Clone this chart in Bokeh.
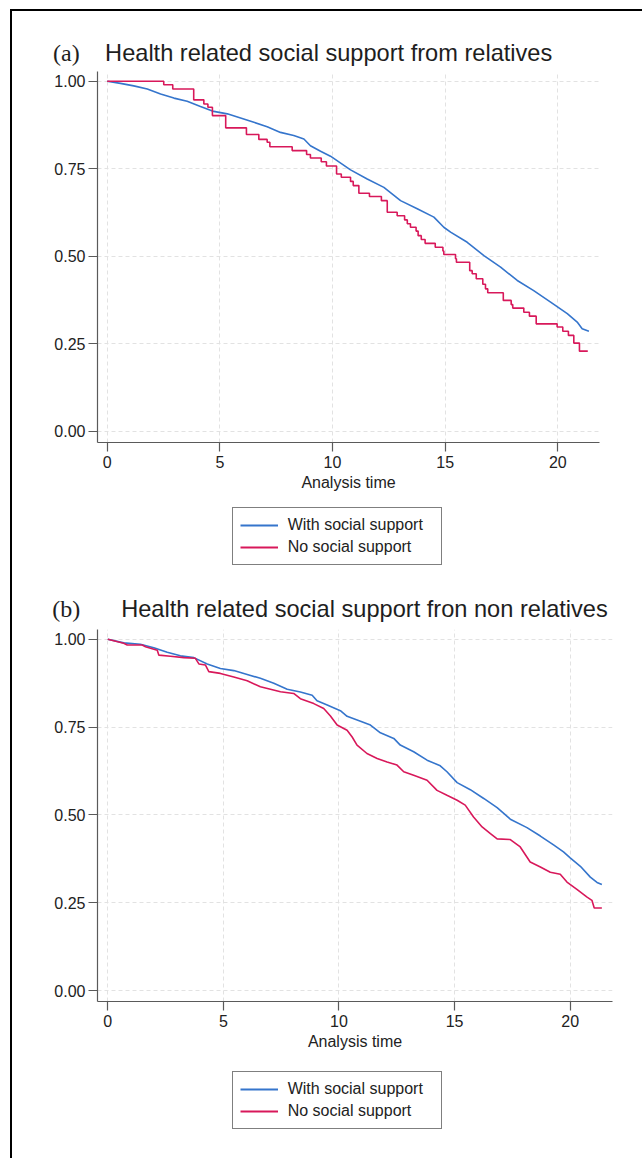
from bokeh.plotting import figure
from bokeh.layouts import column
from bokeh.models import Range1d, FixedTicker, PrintfTickFormatter, Label, Legend, LegendItem
from bokeh.embed import file_html
from bokeh.resources import INLINE

# ---------------- data ----------------
series_names = ["With social support", "No social support"]
x_ticks = [0, 5, 10, 15, 20]
y_ticks = [0.0, 0.25, 0.50, 0.75, 1.00]
x_label = "Analysis time"

title_a = "Health related social support from relatives"
tag_a = "(a)"
# panel (a) - with social support (blue)
a_with_t = [0, 0.59, 1.18, 1.78, 2.37, 2.96, 3.55, 4.14, 4.73, 5.33, 5.92, 6.51, 7.10, 7.69,
            8.28, 8.73, 9.02, 9.47, 9.91, 10.80, 11.54, 12.28, 13.02, 13.76, 14.50, 14.94,
            15.24, 15.98, 16.72, 17.46, 18.20, 18.93, 19.68, 20.42, 20.86, 21.08, 21.38]
a_with_s = [1.0, 0.994, 0.987, 0.978, 0.964, 0.952, 0.943, 0.928, 0.914, 0.907, 0.895, 0.883,
            0.870, 0.854, 0.845, 0.835, 0.816, 0.800, 0.786, 0.747, 0.721, 0.697, 0.659, 0.636,
            0.612, 0.583, 0.569, 0.540, 0.502, 0.469, 0.431, 0.402, 0.369, 0.336, 0.312, 0.293,
            0.286]
# panel (a) - no social support (red, step)
a_no_t = [0, 2.51, 2.91, 3.84, 4.29, 4.47, 4.67, 5.26, 6.18, 6.73, 7.10, 7.22, 8.21, 8.85, 9.02,
          9.50, 9.73, 10.18, 10.39, 10.80, 10.92, 11.17, 11.64, 12.17, 12.43, 12.87, 13.20,
          13.32, 13.46, 13.71, 13.80, 13.94, 14.11, 14.56, 14.90, 14.94, 15.46, 15.50, 16.09,
          16.20, 16.38, 16.67, 16.79, 16.89, 17.58, 17.93, 18.00, 18.49, 18.74, 19.04, 19.97,
          20.22, 20.47, 20.71, 20.96, 21.33]
a_no_s = [1.0, 0.990, 0.978, 0.947, 0.935, 0.926, 0.902, 0.867, 0.848, 0.834, 0.826, 0.813,
          0.802, 0.791, 0.781, 0.770, 0.758, 0.735, 0.726, 0.714, 0.702, 0.680, 0.671, 0.659,
          0.626, 0.616, 0.604, 0.593, 0.583, 0.572, 0.559, 0.548, 0.537, 0.526, 0.515, 0.505,
          0.493, 0.483, 0.459, 0.450, 0.436, 0.420, 0.407, 0.396, 0.374, 0.362, 0.352, 0.340,
          0.329, 0.307, 0.298, 0.286, 0.274, 0.252, 0.229, 0.229]

title_b = "Health related social support fron non relatives"
tag_b = "(b)"
b_with_t = [0, 0.69, 1.41, 1.99, 2.57, 3.14, 3.72, 4.30, 4.87, 5.45, 6.03, 6.60, 7.18, 7.76,
            8.33, 8.84, 9.05, 9.49, 10.06, 10.35, 10.93, 11.36, 11.79, 12.37, 12.65, 13.23,
            13.81, 14.38, 14.67, 15.11, 15.68, 16.26, 16.84, 17.41, 18.13, 18.71, 19.28, 19.71,
            20.00, 20.44, 20.87, 21.16, 21.37]
b_with_s = [1.0, 0.990, 0.986, 0.976, 0.963, 0.953, 0.948, 0.930, 0.917, 0.911, 0.900, 0.889,
            0.875, 0.858, 0.850, 0.841, 0.825, 0.813, 0.797, 0.781, 0.767, 0.756, 0.734, 0.718,
            0.699, 0.680, 0.656, 0.640, 0.623, 0.592, 0.572, 0.547, 0.521, 0.488, 0.464, 0.440,
            0.415, 0.395, 0.378, 0.354, 0.323, 0.308, 0.302]
b_no_t = [0, 0.69, 0.84, 1.49, 1.63, 2.14, 2.21, 2.71, 3.29, 3.79, 3.94, 4.22, 4.37, 4.87, 5.45,
          6.03, 6.60, 7.47, 8.04, 8.33, 8.91, 9.34, 9.63, 9.92, 10.35, 10.57, 10.78, 11.21,
          11.65, 12.08, 12.51, 12.80, 13.23, 13.81, 14.24, 14.67, 15.11, 15.46, 15.82, 16.19,
          16.55, 16.84, 17.41, 17.84, 18.27, 18.71, 19.14, 19.57, 19.86, 20.29, 20.73, 20.94,
          21.04, 21.37]
b_no_s = [1.0, 0.989, 0.984, 0.984, 0.979, 0.969, 0.955, 0.952, 0.948, 0.946, 0.930, 0.927,
          0.908, 0.903, 0.893, 0.882, 0.865, 0.851, 0.846, 0.831, 0.817, 0.803, 0.782, 0.756,
          0.741, 0.722, 0.699, 0.675, 0.661, 0.651, 0.642, 0.623, 0.613, 0.599, 0.570, 0.556,
          0.542, 0.528, 0.494, 0.466, 0.447, 0.432, 0.430, 0.409, 0.366, 0.352, 0.337, 0.331,
          0.309, 0.288, 0.266, 0.257, 0.235, 0.235]

# ---------------- style ----------------
BLUE = "#3575cc"
RED = "#d8185a"
SANS = "Liberation Sans"
SERIF = "Liberation Serif"
W = 630


def blank(h):
    t = figure(width=W, height=h, output_backend="svg", toolbar_location=None,
               x_range=Range1d(0, W), y_range=Range1d(0, h),
               x_axis_location=None, y_axis_location=None, frame_align=False,
               min_border_top=0, min_border_bottom=0, min_border_left=0, min_border_right=0)
    t.outline_line_color = None
    t.xgrid.visible = False
    t.ygrid.visible = False
    return t


def add_title(t, tag, title, tag_x, title_x, base_y, size):
    t.add_layout(Label(x=tag_x, y=base_y, text=tag, text_font=SERIF,
                       text_font_size="24px", text_color="#1e1e1e", text_baseline="alphabetic"))
    t.add_layout(Label(x=title_x, y=base_y, text=title, text_font=SANS,
                       text_font_size=size, text_color="#1e1e1e", text_baseline="alphabetic"))


def add_legend(t, loc, with_t, with_s, no_t, no_s):
    # single-point renderers: they draw no visible mark, only feed the legend samples
    r1 = t.line(x=with_t[:1], y=with_s[:1], line_color=BLUE, line_width=2)
    r2 = t.line(x=no_t[:1], y=no_s[:1], line_color=RED, line_width=2)
    legend = Legend(items=[LegendItem(label=series_names[0], renderers=[r1]),
                           LegendItem(label=series_names[1], renderers=[r2])],
                    location=loc, orientation="vertical",
                    border_line_color="black", border_line_width=1.3,
                    background_fill_color="white", background_fill_alpha=1.0,
                    label_text_font=SANS, label_text_font_size="16px",
                    label_text_color="#222222",
                    glyph_width=38, glyph_height=20, label_height=20,
                    label_width=146, label_standoff=10, spacing=2,
                    padding=7, margin=0)
    t.add_layout(legend, "center")


def make_panel(with_t, with_s, no_t, no_s, no_step, cfg):
    p = figure(width=W, height=cfg["h"], output_backend="svg", toolbar_location=None,
               x_range=Range1d(*cfg["xr"]), y_range=Range1d(*cfg["yr"]), frame_align=False,
               min_border_top=cfg["bt"], min_border_bottom=cfg["bb"],
               min_border_left=cfg["bl"], min_border_right=cfg["br"])
    p.outline_line_color = None
    for ax in (p.xaxis[0], p.yaxis[0]):
        ax.axis_line_color = "#5a5a5a"
        ax.axis_line_width = 1.2
        ax.major_tick_line_color = "#5a5a5a"
        ax.major_tick_line_width = 1.2
        ax.major_tick_out = 9
        ax.major_tick_in = 0
        ax.minor_tick_line_color = None
        ax.major_label_text_font = SANS
        ax.major_label_text_font_size = "16px"
        ax.major_label_text_color = "#222222"
    p.xaxis.ticker = FixedTicker(ticks=x_ticks)
    p.yaxis.ticker = FixedTicker(ticks=y_ticks)
    p.yaxis.formatter = PrintfTickFormatter(format="%.2f")
    p.xaxis.major_label_standoff = 4
    p.yaxis.major_label_standoff = 3
    p.xaxis.axis_label = x_label
    p.xaxis.axis_label_text_font = SANS
    p.xaxis.axis_label_text_font_size = "16px"
    p.xaxis.axis_label_text_font_style = "normal"
    p.xaxis.axis_label_text_color = "#222222"
    p.xaxis.axis_label_standoff = 3
    for g in (p.xgrid[0], p.ygrid[0]):
        g.grid_line_color = "#e2e2e2"
        g.grid_line_dash = "4 3"
        g.grid_line_width = 1

    p.line(with_t, with_s, line_color=BLUE, line_width=1.6)
    if no_step:
        p.step(no_t, no_s, mode="after", line_color=RED, line_width=1.6)
    else:
        p.line(no_t, no_s, line_color=RED, line_width=1.6)
    return p


# title (a)
ta = blank(60)
add_title(ta, tag_a, title_a, 40.5, 92.6, 18.5, "23.6px")
# panel (a)
p1 = make_panel(a_with_t, a_with_s, a_no_t, a_no_s, True,
                dict(h=431, xr=(-0.43, 21.85), yr=(-0.032, 1.028), bt=0, bb=60, bl=85, br=43))
# legend (a) + title (b)
mid = blank(123)
add_legend(mid, (219.7, 60.5), a_with_t, a_with_s, a_no_t, a_no_s)
add_title(mid, tag_b, title_b, 39.7, 108.7, 17, "23.6px")
# panel (b)
p2 = make_panel(b_with_t, b_with_s, b_no_t, b_no_s, False,
                dict(h=436, xr=(-0.445, 21.83), yr=(-0.031, 1.028), bt=4, bb=60, bl=85, br=30))
# legend (b)
lb = blank(97)
add_legend(lb, (219.7, 29), b_with_t, b_with_s, b_no_t, b_no_s)

layout = column(ta, p1, mid, p2, lb, spacing=0, margin=(9, 0, 0, 10),
                styles={"border-left": "2px solid #000", "border-top": "2px solid #000"})

open("out.html", "w").write(file_html(layout, INLINE))
